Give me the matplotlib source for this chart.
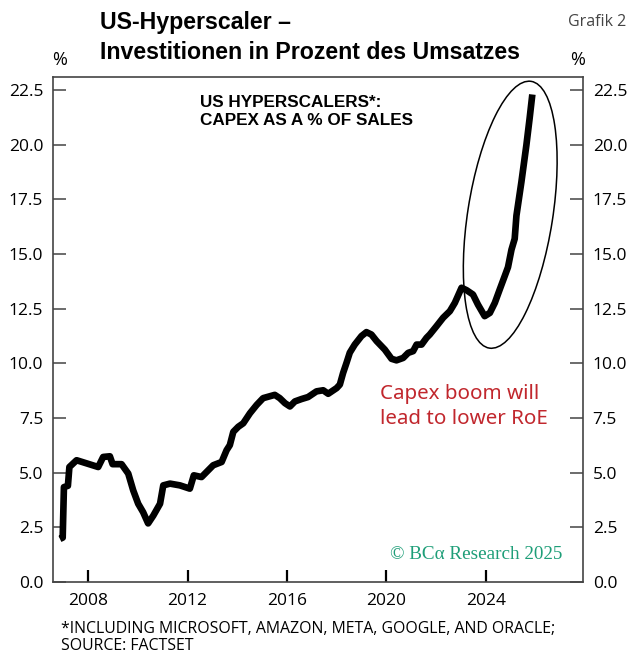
import numpy as np
import matplotlib
matplotlib.use("Agg")
import matplotlib.pyplot as plt
from matplotlib.patches import Ellipse
from matplotlib.transforms import ScaledTranslation

# capex as % of sales (decimal years)
years = [2006.86, 2006.97, 2007.02, 2007.18, 2007.24, 2007.53, 2008.40, 2008.60,
         2008.87, 2008.98, 2009.34, 2009.61, 2009.81, 2010.01, 2010.21, 2010.41,
         2010.62, 2010.89, 2011.02, 2011.29, 2011.69, 2012.09, 2012.25, 2012.56,
         2013.03, 2013.37, 2013.57, 2013.70, 2013.84, 2014.04, 2014.24, 2014.51,
         2014.78, 2015.04, 2015.51, 2015.71, 2015.92, 2016.12, 2016.32, 2016.59,
         2016.85, 2017.19, 2017.46, 2017.66, 2018.00, 2018.13, 2018.26, 2018.40,
         2018.53, 2018.73, 2019.00, 2019.20, 2019.40, 2019.61, 2019.94, 2020.21,
         2020.41, 2020.68, 2020.88, 2021.08, 2021.22, 2021.42, 2021.62, 2021.75,
         2022.02, 2022.29, 2022.56, 2022.76, 2023.03, 2023.23, 2023.49, 2023.69,
         2023.96, 2024.17, 2024.37, 2024.57, 2024.77, 2024.90, 2025.04, 2025.17,
         2025.24, 2025.44, 2025.64, 2025.77, 2025.88]
capex_pct = [1.97, 2.03, 4.34, 4.40, 5.26, 5.57, 5.26, 5.72,
             5.75, 5.39, 5.39, 4.96, 4.19, 3.58, 3.19, 2.68,
             3.04, 3.58, 4.42, 4.50, 4.42, 4.27, 4.88, 4.80,
             5.34, 5.49, 6.03, 6.26, 6.87, 7.10, 7.26, 7.72,
             8.10, 8.41, 8.56, 8.41, 8.18, 8.03, 8.26, 8.37,
             8.46, 8.72, 8.77, 8.61, 8.87, 9.03, 9.56, 10.03,
             10.49, 10.86, 11.25, 11.43, 11.32, 11.02, 10.63, 10.21,
             10.14, 10.25, 10.48, 10.56, 10.86, 10.86, 11.17, 11.32,
             11.70, 12.09, 12.39, 12.77, 13.46, 13.35, 13.15, 12.69,
             12.16, 12.31, 12.77, 13.39, 14.00, 14.40, 15.20, 15.70,
             16.76, 18.30, 19.98, 21.20, 22.30]

x_ticks = [2008, 2012, 2016, 2020, 2024]
y_ticks = [0.0, 2.5, 5.0, 7.5, 10.0, 12.5, 15.0, 17.5, 20.0, 22.5]

tick_font = "Open Sans"

fig = plt.figure(figsize=(6.32, 6.57), dpi=100)
ax = fig.add_axes([53 / 632, 1 - 582 / 657, 530 / 632, 505 / 657])

ax.plot(years, capex_pct, color="black", lw=4.8, solid_joinstyle="round",
        solid_capstyle="butt")

ax.set_xlim(2006.58, 2027.92)
ax.set_ylim(0, 23.1)

for s in ax.spines.values():
    s.set_color("#444444")
    s.set_linewidth(1.2)

ax.set_yticks(y_ticks)
ax.set_yticklabels([f"{v:.1f}" for v in y_ticks], fontfamily=tick_font, fontsize=12.5)
ax.tick_params(axis="y", which="both", direction="in", length=9.5, width=1.1,
               color="#444444", left=True, right=True, labelleft=True,
               labelright=True, pad=7)
ax.set_xticks(x_ticks)
ax.set_xticklabels([str(v) for v in x_ticks], fontfamily=tick_font, fontsize=12.5)
ax.tick_params(axis="x", direction="in", length=9, width=1.6, color="black", pad=8)

# highlight ellipse drawn in inches around the recent surge
ell = Ellipse((0, 0), 0.85, 2.70, angle=-8.9, fill=False, edgecolor="black", lw=1.1,
              transform=fig.dpi_scale_trans + ScaledTranslation(2024.99, 16.8, ax.transData),
              clip_on=False)
ax.add_patch(ell)

# annotations
ax.text(0.277, 0.965, "US HYPERSCALERS*:\nCAPEX AS A % OF SALES", transform=ax.transAxes,
        ha="left", va="top", fontsize=12.3, fontfamily="Liberation Sans",
        fontweight="bold", linespacing=1.25)
ax.text(0.617, 0.392, "Capex boom will\nlead to lower RoE", transform=ax.transAxes,
        ha="left", va="top", fontsize=14.8, fontfamily="Noto Sans", color="#c1272d",
        linespacing=1.3)
ax.text(0.962, 0.055, "© BCα Research 2025", transform=ax.transAxes,
        ha="right", va="center", fontsize=13.8, fontfamily="Liberation Serif",
        color="#1e9e78")

# titles and labels around the frame
fig.text(100 / 632, 1 - 11 / 657, "US-Hyperscaler –\nInvestitionen in Prozent des Umsatzes",
         ha="left", va="top", fontsize=16.7, fontweight="bold",
         fontfamily="Liberation Sans", linespacing=1.38)
fig.text(626 / 632, 1 - 22 / 657, "Grafik 2", ha="right", va="center", fontsize=11.5,
         color="#444444", fontfamily="Open Sans")
fig.text(60 / 632, 1 - 60 / 657, "%", ha="center", va="center", fontsize=13,
         fontfamily=tick_font)
fig.text(578 / 632, 1 - 60 / 657, "%", ha="center", va="center", fontsize=13,
         fontfamily=tick_font)
fig.text(61 / 632, 1 - 621 / 657,
         "*INCLUDING MICROSOFT, AMAZON, META, GOOGLE, AND ORACLE;\nSOURCE: FACTSET",
         ha="left", va="top", fontsize=11.4, fontfamily=tick_font, linespacing=1.12)

fig.savefig("out.png", dpi=100)
